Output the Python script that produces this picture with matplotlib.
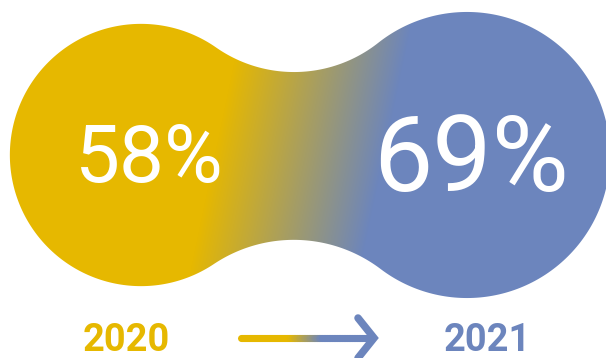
import numpy as np
import matplotlib
matplotlib.use("Agg")
import matplotlib.pyplot as plt
from matplotlib.path import Path
from matplotlib.patches import PathPatch
from matplotlib.collections import LineCollection
from matplotlib.colors import LinearSegmentedColormap

# ---- data ----
years = ["2020", "2021"]
values = [58, 69]
labels = [f"{v}%" for v in values]

GOLD = "#E6B800"
BLUE = "#6C85BD"

W, H = 606, 358
fig = plt.figure(figsize=(6.06, 3.58), dpi=100)
ax = fig.add_axes([0, 0, 1, 1])
ax.set_xlim(0, W)
ax.set_ylim(H, 0)
ax.axis("off")

# circle radius proportional to sqrt(value) (area encodes value)
k = 17.22
radii = [k * np.sqrt(v) for v in values]
centers = [(141.0, 155.0), (467.0, 155.0)]


def bridge_center(c1, r1, c2, r2, R, side):
    (x1, y1), (x2, y2) = c1, c2
    a_, b_ = r1 + R, r2 + R
    d = np.hypot(x2 - x1, y2 - y1)
    l = (a_ ** 2 - b_ ** 2 + d ** 2) / (2 * d)
    h = np.sqrt(a_ ** 2 - l ** 2)
    ux, uy = (x2 - x1) / d, (y2 - y1) / d
    px, py = x1 + l * ux, y1 + l * uy
    return np.array([px + side * h * (-uy), py + side * h * ux])


def tangent(c, r, b):
    c = np.asarray(c)
    v = b - c
    return c + r * v / np.hypot(*v)


def ang(c, p):
    return np.arctan2(p[1] - c[1], p[0] - c[0])


def arc(c, r, a0, a1, n=200):
    t = np.linspace(a0, a1, n)
    return np.column_stack([c[0] + r * np.cos(t), c[1] + r * np.sin(t)])


C1, C2 = np.array(centers[0]), np.array(centers[1])
r1, r2 = radii
Rt, Rb = 136, 144
Bt = bridge_center(C1, r1, C2, r2, Rt, -1)
Bb = bridge_center(C1, r1, C2, r2, Rb, +1)
T1t, T2t = tangent(C1, r1, Bt), tangent(C2, r2, Bt)
T1b, T2b = tangent(C1, r1, Bb), tangent(C2, r2, Bb)

pts = np.vstack([
    arc(C1, r1, ang(C1, T1t), ang(C1, T1b) - 2 * np.pi),
    arc(Bb, Rb, ang(Bb, T1b), ang(Bb, T2b)),
    arc(C2, r2, ang(C2, T2b), ang(C2, T2t)),
    arc(Bt, Rt, ang(Bt, T2t), ang(Bt, T1t)),
])
path = Path(np.vstack([pts, pts[:1]]), closed=True)
patch = PathPatch(path, facecolor="none", edgecolor="none")
ax.add_patch(patch)

# gradient fill
cmap = LinearSegmentedColormap.from_list("gb", [GOLD, BLUE])
yy, xx = np.mgrid[0:H, 0:W] + 0.5
u = xx + 0.21 * (yy - 155)
t = np.clip((u - 214) / (385 - 214), 0, 1)
im = ax.imshow(cmap(t), extent=(0, W, H, 0), origin="upper", interpolation="bilinear", zorder=1)
im.set_clip_path(patch)

# big percentage labels
ax.text(149, 182, labels[0], fontsize=57.7, family="Roboto", weight="normal",
        color="white", ha="center", va="baseline", zorder=3)
ax.text(471.5, 191, labels[1], fontsize=76, family="Roboto", weight="normal",
        color="white", ha="center", va="baseline", zorder=3)

# year labels
ax.text(126, 351, years[0], fontsize=27.4, family="Roboto", weight="bold",
        color=GOLD, ha="center", va="baseline")
ax.text(487, 351, years[1], fontsize=27.4, family="Roboto", weight="bold",
        color=BLUE, ha="center", va="baseline")

# gradient arrow
xs = np.linspace(240.5, 372, 80)
segs = [[(xs[i], 338), (xs[i + 1], 338)] for i in range(len(xs) - 1)]
tc = np.clip(((xs[:-1] + xs[1:]) / 2 - 290) / (323 - 290), 0, 1)
lc = LineCollection(segs, colors=cmap(tc), linewidths=5.1, capstyle="round")
ax.add_collection(lc)
ax.plot([358, 374, 358], [318, 338, 358], color=BLUE, lw=5.4,
        solid_joinstyle="miter", solid_capstyle="round")

fig.savefig("out.png", dpi=100)
